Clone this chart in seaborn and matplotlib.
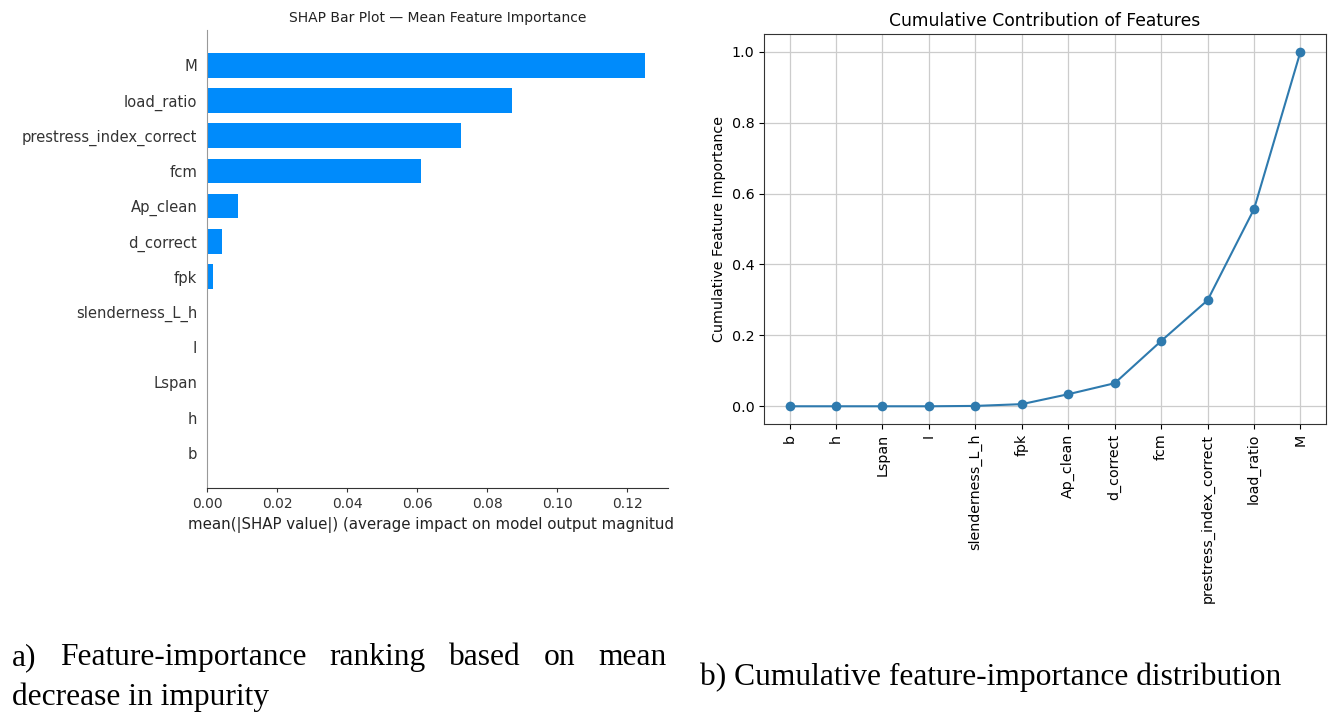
import numpy as np
import pandas as pd
import matplotlib
matplotlib.use("Agg")
import matplotlib.pyplot as plt
import seaborn as sns

# (a) mean |SHAP| per feature, listed top to bottom
shap_features = ["M", "load_ratio", "prestress_index_correct", "fcm", "Ap_clean",
                 "d_correct", "fpk", "slenderness_L_h", "I", "Lspan", "h", "b"]
shap_values = [0.1250, 0.0872, 0.0724, 0.0612, 0.0089, 0.0044, 0.0016,
               0.0, 0.0, 0.0, 0.0, 0.0]

# (b) cumulative feature importance, smallest to largest
cum_features = ["b", "h", "Lspan", "I", "slenderness_L_h", "fpk", "Ap_clean",
                "d_correct", "fcm", "prestress_index_correct", "load_ratio", "M"]
cum_values = [0.0, 0.0, 0.0, 0.0, 0.001, 0.006, 0.034, 0.065, 0.184, 0.299, 0.556, 1.0]

caption_a1 = "a) Feature-importance ranking based on mean"
caption_a2 = "decrease in impurity"
caption_b = "b) Cumulative feature-importance distribution"

W, H = 1340, 725
fig = plt.figure(figsize=(W / 100, H / 100), dpi=100)

def px_axes(x0, y0, x1, y1):
    return fig.add_axes([x0 / W, 1 - y1 / H, (x1 - x0) / W, (y1 - y0) / H])

# ---- left: SHAP bar plot ----
ax1 = px_axes(207, 30, 668, 488)
df_shap = pd.DataFrame({"feature": shap_features, "value": shap_values})
sns.barplot(data=df_shap, x="value", y="feature", orient="h", color="#008bfb",
            saturation=1, width=0.7, ax=ax1)
ax1.set_ylim(12, -1)
ax1.set_xlim(0, 0.1316)
ax1.set_xticks([0, 0.02, 0.04, 0.06, 0.08, 0.10, 0.12])
ax1.set_xticklabels(["0.00", "0.02", "0.04", "0.06", "0.08", "0.10", "0.12"])
for s in ["top", "right"]:
    ax1.spines[s].set_visible(False)
ax1.spines["left"].set_color("#999999")
ax1.spines["bottom"].set_color("#333333")
ax1.tick_params(axis="y", length=0, pad=7, labelsize=10.6, labelcolor="#333333")
ax1.tick_params(axis="x", length=3, labelsize=10, labelcolor="#333333", color="#333333")
ax1.set_ylabel("")
ax1.set_xlabel("mean(|SHAP value|) (average impact on model output magnitud",
               fontsize=10.8, color="#222222", labelpad=4, x=0.485)
ax1.set_title("SHAP Bar Plot \u2014 Mean Feature Importance", fontsize=10,
              color="#222222", pad=6)

# ---- right: cumulative contribution ----
ax2 = px_axes(764, 34, 1326, 424)
df_cum = pd.DataFrame({"feature": cum_features, "cum": cum_values})
sns.lineplot(data=df_cum, x="feature", y="cum", sort=False, marker="o",
             markersize=7, markeredgewidth=0, color="#2e7aae", linewidth=1.5, ax=ax2)
ax2.set_xlim(-0.55, len(cum_features) - 0.45)
ax2.set_ylim(-0.05, 1.05)
ax2.set_yticks([0.0, 0.2, 0.4, 0.6, 0.8, 1.0])
ax2.grid(True, color="#cccccc", linewidth=0.9)
ax2.set_axisbelow(True)
ax2.tick_params(axis="x", rotation=90, labelsize=10.3)
ax2.tick_params(axis="y", labelsize=10.3)
ax2.set_xlabel("")
ax2.set_ylabel("Cumulative Feature Importance", fontsize=10.3)
ax2.set_title("Cumulative Contribution of Features", fontsize=12.3)
for s in ax2.spines.values():
    s.set_color("#333333")

# ---- captions (line 1 of (a) is justified) ----
cap_font = dict(family="Liberation Serif", fontsize=22.7, color="black")
renderer = fig.canvas.get_renderer()
words = caption_a1.split()
left_px, right_px, base_y = 12, 667, 665
tmp = [fig.text(0, 0, w, **cap_font) for w in words]
widths = [t.get_window_extent(renderer).width for t in tmp]
for t in tmp:
    t.remove()
gap = (right_px - left_px - sum(widths)) / (len(words) - 1)
x = left_px
for w, wd in zip(words, widths):
    fig.text(x / W, 1 - base_y / H, w, va="baseline", ha="left", **cap_font)
    x += wd + gap
fig.text(left_px / W, 1 - 705 / H, caption_a2, va="baseline", ha="left", **cap_font)
fig.text(700 / W, 1 - 685 / H, caption_b, va="baseline", ha="left", **cap_font)

fig.savefig("out.png", dpi=100)
